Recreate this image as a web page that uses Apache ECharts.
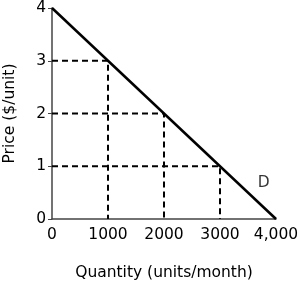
<!DOCTYPE html>
<html>
<head>
<meta charset="utf-8">
<script src="https://cdn.jsdelivr.net/npm/echarts@6/dist/echarts.min.js"></script>
<style>
  html, body { margin: 0; padding: 0; background: #fff; }
  #chart { width: 298px; height: 286px; }
</style>
</head>
<body>
<div id="chart"></div>
<script>
// demand curve end points
const demandLine = [[0, 4], [4000, 0]];
// dashed guide lines (price -> quantity)
const guideQty = [1000, 2000, 3000];
const guidePrice = [3, 2, 1];
const curveLabel = [[3780, 0.68]];
const xTicks = { 0: "0", 1000: "1000", 2000: "2000", 3000: "3000", 4000: "4,000" };

const fontFam = "DejaVu Sans";
const fontSz = 15.5;

const guideSeries = guideQty.map((q, i) => ({
  type: "line",
  data: [[0, guidePrice[i]], [q, guidePrice[i]], [q, 0]],
  symbol: "none",
  lineStyle: { color: "#000", width: 2, type: [6, 4] },
  z: 2,
}));

const myChart = echarts.init(document.getElementById("chart"));
myChart.setOption({
  animation: false,
  grid: { left: 52, right: 22, top: 8, bottom: 67, outerBoundsMode: "none", containLabel: false },
  xAxis: {
    type: "value",
    min: 0,
    max: 4000,
    interval: 1000,
    name: "Quantity (units/month)",
    nameLocation: "center",
    nameGap: 46,
    nameTextStyle: { fontFamily: fontFam, fontSize: fontSz, color: "#000" },
    axisLine: { lineStyle: { color: "#444", width: 1.5 } },
    axisTick: { show: false },
    splitLine: { show: false },
    axisLabel: {
      fontFamily: fontFam, fontSize: fontSz, color: "#000", margin: 8,
      formatter: (v) => xTicks[v],
    },
  },
  yAxis: {
    type: "value",
    min: 0,
    max: 4,
    interval: 1,
    name: "Price ($/unit)",
    nameLocation: "center",
    nameGap: 34,
    nameRotate: 90,
    nameTextStyle: { fontFamily: fontFam, fontSize: fontSz, color: "#000" },
    axisLine: { show: true, lineStyle: { color: "#444", width: 1.5 } },
    axisTick: { show: true, length: 4, lineStyle: { color: "#444" } },
    splitLine: { show: false },
    axisLabel: { fontFamily: fontFam, fontSize: fontSz, color: "#000", margin: 6 },
  },
  series: [
    ...guideSeries,
    {
      type: "line",
      data: demandLine,
      symbol: "none",
      lineStyle: { color: "#000", width: 2.5 },
      z: 3,
    },
    {
      type: "scatter",
      data: curveLabel,
      symbolSize: 0,
      label: {
        show: true,
        position: "inside",
        formatter: "D",
        fontFamily: fontFam,
        fontSize: fontSz,
        color: "#000",
      },
    },
  ],
});
</script>
</body>
</html>
